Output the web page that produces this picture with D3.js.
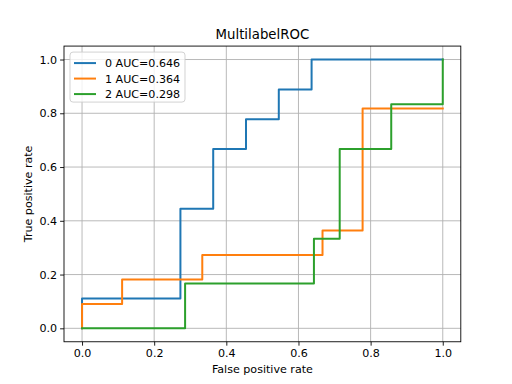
<!DOCTYPE html>
<html>
<head>
<meta charset="utf-8">
<script src="https://cdn.jsdelivr.net/npm/d3@7"></script>
<style>
  body { margin: 0; background: #fff; }
  svg { display: block; font-family: "DejaVu Sans", sans-serif; }
</style>
</head>
<body>
<svg id="chart" width="512" height="384"></svg>
<script>
// ROC curves, one per label: false positive rate / true positive rate
const labels = ["0 AUC=0.646", "1 AUC=0.364", "2 AUC=0.298"];
const colors = ["#1f77b4", "#ff7f0e", "#2ca02c"];

const fpr0 = [0, 0, 3/11, 3/11, 4/11, 4/11, 5/11, 5/11, 6/11, 6/11, 7/11, 7/11, 1];
const tpr0 = [0, 1/9, 1/9, 4/9, 4/9, 6/9, 6/9, 7/9, 7/9, 8/9, 8/9, 1, 1];

const fpr1 = [0, 0, 1/9, 1/9, 3/9, 3/9, 6/9, 6/9, 7/9, 7/9, 1];
const tpr1 = [0, 1/11, 1/11, 2/11, 2/11, 3/11, 3/11, 4/11, 4/11, 9/11, 9/11];

const fpr2 = [0, 4/14, 4/14, 9/14, 9/14, 10/14, 10/14, 12/14, 12/14, 1, 1];
const tpr2 = [0, 0, 1/6, 1/6, 2/6, 2/6, 4/6, 4/6, 5/6, 5/6, 1];

const xTicks = [0, 0.2, 0.4, 0.6, 0.8, 1.0];
const yTicks = [0, 0.2, 0.4, 0.6, 0.8, 1.0];

const curves = [
  { fpr: fpr0, tpr: tpr0 },
  { fpr: fpr1, tpr: tpr1 },
  { fpr: fpr2, tpr: tpr2 }
];

const svg = d3.select("#chart");
const mLeft = 64, mRight = 460.8, mTop = 46.08, mBottom = 341.76;

const x = d3.scaleLinear().domain([-0.05, 1.05]).range([mLeft, mRight]);
const y = d3.scaleLinear().domain([-0.05, 1.05]).range([mBottom, mTop]);

// grid
const grid = svg.append("g");
grid.selectAll(".gx").data(xTicks).join("line")
  .attr("x1", d => x(d)).attr("x2", d => x(d))
  .attr("y1", mTop).attr("y2", mBottom)
  .attr("stroke", "#b0b0b0").attr("stroke-width", 0.89);
grid.selectAll(".gy").data(yTicks).join("line")
  .attr("y1", d => y(d)).attr("y2", d => y(d))
  .attr("x1", mLeft).attr("x2", mRight)
  .attr("stroke", "#b0b0b0").attr("stroke-width", 0.89);

// curves
const line = d3.line().x(d => x(d[0])).y(d => y(d[1]));
curves.forEach((c, i) => {
  svg.append("path")
    .datum(c.fpr.map((f, j) => [f, c.tpr[j]]))
    .attr("d", line)
    .attr("fill", "none")
    .attr("stroke", colors[i])
    .attr("stroke-width", 2)
    .attr("stroke-linejoin", "round")
    .attr("stroke-linecap", "square");
});

// axes
const xAxis = d3.axisBottom(x).tickValues(xTicks).tickFormat(d3.format(".1f")).tickSize(3.9).tickPadding(3);
const yAxis = d3.axisLeft(y).tickValues(yTicks).tickFormat(d3.format(".1f")).tickSize(3.9).tickPadding(3);

const gx = svg.append("g").attr("transform", `translate(0,${mBottom})`).call(xAxis);
const gy = svg.append("g").attr("transform", `translate(${mLeft},0)`).call(yAxis);
[gx, gy].forEach(g => {
  g.select(".domain").remove();
  g.selectAll("line").attr("stroke", "#000").attr("stroke-width", 0.89);
  g.selectAll("text").attr("font-size", 11.1).attr("fill", "#000")
    .attr("font-family", "DejaVu Sans");
});

// spines
svg.append("rect")
  .attr("x", mLeft).attr("y", mTop)
  .attr("width", mRight - mLeft).attr("height", mBottom - mTop)
  .attr("fill", "none").attr("stroke", "#000").attr("stroke-width", 0.89);

// labels
svg.append("text").attr("x", (mLeft + mRight) / 2).attr("y", 39)
  .attr("text-anchor", "middle").attr("font-size", 13.3).text("MultilabelROC");
svg.append("text").attr("x", (mLeft + mRight) / 2).attr("y", 373)
  .attr("text-anchor", "middle").attr("font-size", 11.1).text("False positive rate");
svg.append("text").attr("transform", `translate(32,${(mTop + mBottom) / 2}) rotate(-90)`)
  .attr("text-anchor", "middle").attr("font-size", 11.1).text("True positive rate");

// legend
const lg = svg.append("g").attr("transform", `translate(${mLeft + 6},${mTop + 6})`);
lg.append("rect")
  .attr("width", 115).attr("height", 50).attr("rx", 3)
  .attr("fill", "#fff").attr("fill-opacity", 0.8)
  .attr("stroke", "#cccccc").attr("stroke-width", 0.89);
labels.forEach((t, i) => {
  const yy = 11 + i * 15.5;
  lg.append("line").attr("x1", 4).attr("x2", 26).attr("y1", yy).attr("y2", yy)
    .attr("stroke", colors[i]).attr("stroke-width", 2);
  lg.append("text").attr("x", 35).attr("y", yy + 4).attr("font-size", 11.1).text(t);
});
</script>
</body>
</html>
